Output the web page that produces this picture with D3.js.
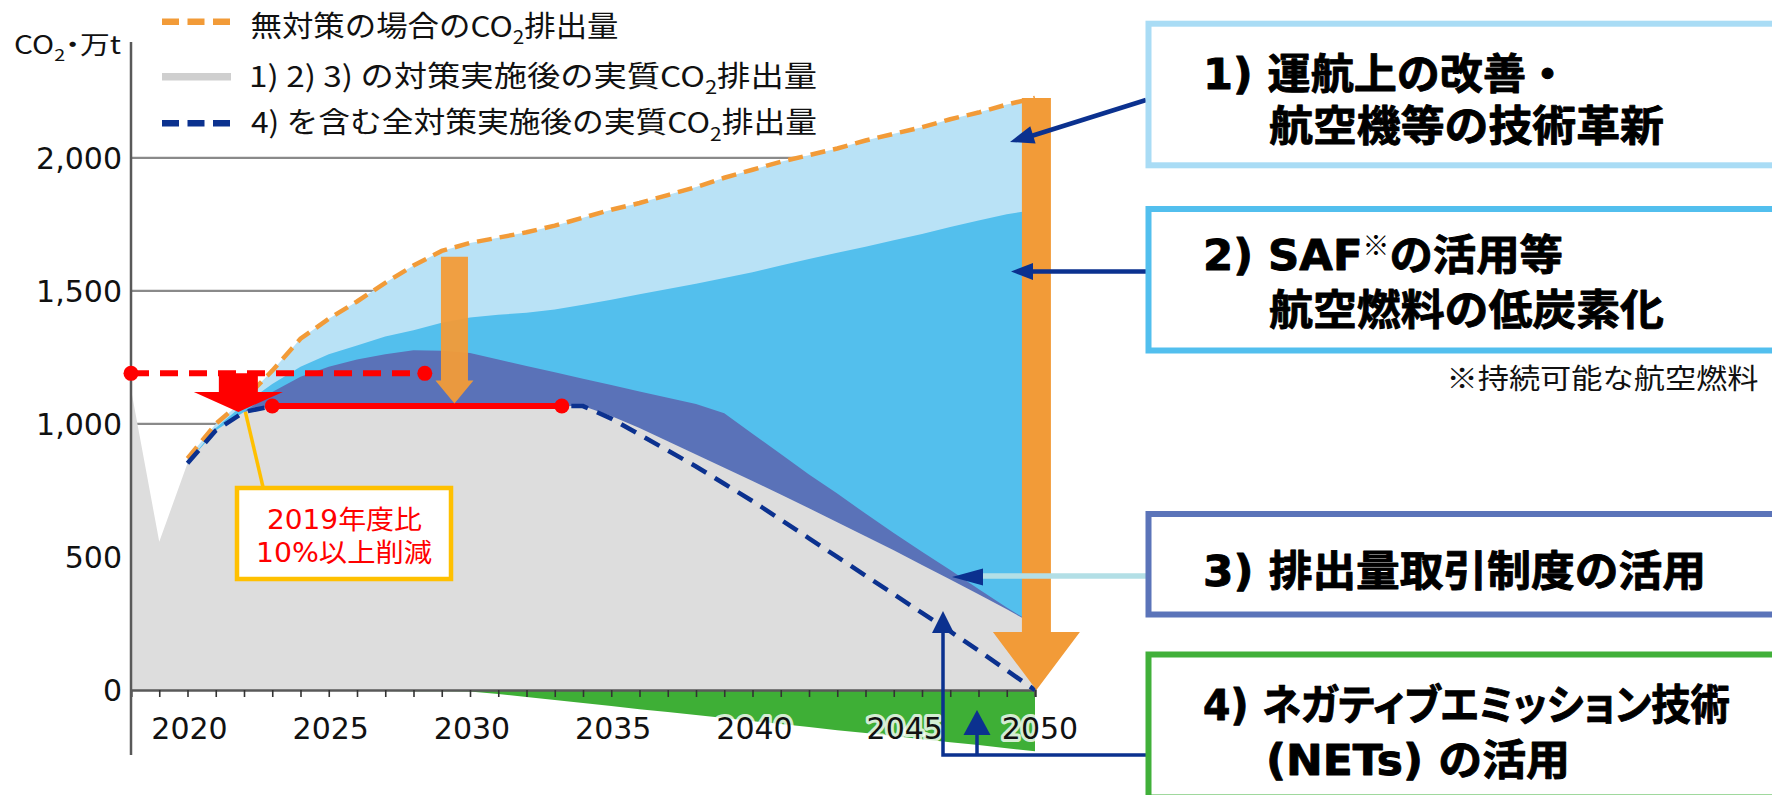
<!DOCTYPE html>
<html lang="ja"><head><meta charset="utf-8">
<script src="https://cdn.jsdelivr.net/npm/d3@7"></script>
<style>html,body{margin:0;padding:0;background:#fff;}svg{display:block}</style>
</head><body>
<svg id="chart" width="1772" height="795"></svg>
<script>
// ---------------- DATA (万t-CO2) ----------------
const years = [2018,2019,2020,2021,2022,2023,2024,2025,2026,2027,2028,2029,2030,2031,2032,2033,2034,2035,2036,2037,2038,2039,2040,2041,2042,2043,2044,2045,2046,2047,2048,2049,2050];
// 無対策の場合 (orange dashed, top of light-blue area)
const noMeasures = [null,null,870,1000,1090,1200,1320,1395,1460,1530,1595,1650,1680,1700,1720,1745,1775,1805,1830,1860,1890,1925,1955,1985,2010,2035,2065,2090,2115,2145,2170,2200,2225];
// after 1) — top of SAF area
const afterMeasure1 = [null,null,852,985,1075,1150,1215,1262,1295,1328,1352,1380,1400,1410,1418,1430,1448,1467,1487,1507,1527,1548,1570,1595,1620,1643,1666,1690,1714,1740,1764,1788,1805];
// after 1)2) — top of emission-trading area
const afterMeasure12 = [null,null,null,null,1045,1120,1177,1215,1242,1262,1277,1275,1266,1242,1218,1194,1170,1146,1122,1098,1075,1040,963,887,810,738,663,590,520,451,380,310,245];
// after 1)2)3) — grey area
const afterMeasure123 = [1130,557,852,975,1045,1067,1067,1067,1067,1067,1067,1067,1067,1067,1067,1067,1067,1030,985,935,885,835,785,735,683,630,578,525,470,415,360,303,245];
// incl. 4) — navy dashed
const afterAll = [null,null,852,975,1045,1067,1067,1067,1067,1067,1067,1067,1067,1067,1067,1067,1067,1020,960,900,840,775,710,640,570,500,430,360,290,220,148,74,0];
// 4) NETs removals (green, negative)
const nets = [null,null,null,null,null,null,null,0,-3,-4,-5,-5,-6,-15,-26,-38,-49,-60,-72,-83,-94,-105,-117,-128,-139,-151,-162,-173,-185,-196,-207,-219,-230];

const yTicks = [0,500,1000,1500,2000];
const xTickYears = [2019,2020,2021,2022,2023,2024,2025,2026,2027,2028,2029,2030,2031,2032,2033,2034,2035,2036,2037,2038,2039,2040,2041,2042,2043,2044,2045,2046,2047,2048,2049,2050];
const xLabelYears = [2020,2025,2030,2035,2040,2045,2050];

const base2019 = 1190;      // 2019年度 level (red dashed)
const target = 1067;        // 10% reduction level (red solid)
const legendItems = [
  {segs:[{t:'無対策の場合のCO'},{t:'2',sub:true},{t:'排出量'}], kind:'orange'},
  {segs:[{t:'1) 2) 3) の対策実施後の実質CO'},{t:'2',sub:true},{t:'排出量'}], kind:'gray'},
  {segs:[{t:'4) を含む全対策実施後の実質CO'},{t:'2',sub:true},{t:'排出量'}], kind:'navy'}
];
const calloutLines = ['2019年度比','10%以上削減'];
const boxLabels = [
  ['1) 運航上の改善・','航空機等の技術革新'],
  ['2) SAF※の活用等','航空燃料の低炭素化'],
  ['3) 排出量取引制度の活用'],
  ['4) ネガティブエミッション技術','(NETs) の活用']
];
const footnote = '※持続可能な航空燃料';

// ---------------- STYLE ----------------
const C = {
  light:'#b9e2f6', mid:'#53bfed', dark:'#5a72b8', gray:'#dddddd', green:'#3eaf36',
  orange:'#f29b38', navy:'#0b318f', red:'#ff0000', yellow:'#ffc000', grid:'#8a8a8a', axis:'#595959'
};
const JP = '"Noto Sans CJK JP","Noto Sans",sans-serif';
const JPB = '"DejaVu Sans","Noto Sans CJK JP",sans-serif';
const NUM = '"DejaVu Sans",Verdana,sans-serif';

const svg = d3.select('#chart');
const x = d3.scaleLinear().domain([2018, 2050]).range([131, 1035]);
const y = d3.scaleLinear().domain([0, 2000]).range([690, 157.8]);

const rows = (arr) => years.map((yr,i)=>({year:yr, v:arr[i]}));
const area = d3.area().defined(d=>d.v!=null).x(d=>x(d.year)).y0(y(0)).y1(d=>y(d.v));
const line = d3.line().defined(d=>d.v!=null).x(d=>x(d.year)).y(d=>y(d.v));

// gridlines
svg.append('g').selectAll('line').data(yTicks.filter(v=>v>0)).join('line')
  .attr('x1', x(2018)).attr('x2', x(2050)).attr('y1', d=>y(d)).attr('y2', d=>y(d))
  .attr('stroke', C.grid).attr('stroke-width', 2.2);

// areas
svg.append('path').datum(rows(noMeasures)).attr('d', area).attr('fill', C.light);
svg.append('path').datum(rows(afterMeasure1)).attr('d', area).attr('fill', C.mid);
svg.append('path').datum(rows(afterMeasure12)).attr('d', area).attr('fill', C.dark);
svg.append('path').datum(rows(afterMeasure123)).attr('d', area).attr('fill', C.gray);
svg.append('path').datum(rows(nets)).attr('d', area).attr('fill', C.green);

// axes
svg.append('line').attr('x1', x(2018)).attr('x2', x(2018)).attr('y1', 42).attr('y2', 755)
  .attr('stroke', C.axis).attr('stroke-width', 2.5);
const xAxis = svg.append('g').attr('transform', `translate(0,${y(0)})`)
  .call(d3.axisBottom(x).tickValues(xTickYears).tickSize(7).tickFormat(''));
xAxis.select('.domain').attr('stroke', C.axis).attr('stroke-width', 2.5);
xAxis.selectAll('.tick line').attr('stroke', '#333').attr('stroke-width', 1.6);

const yAxis = svg.append('g').attr('transform', `translate(122,0)`)
  .call(d3.axisLeft(y).tickValues(yTicks).tickSize(0).tickPadding(0).tickFormat(d3.format(',')));
yAxis.select('.domain').remove();
yAxis.selectAll('text').attr('font-family', NUM).attr('font-size', 30).attr('fill', '#111')
  .attr('dy', null).attr('dominant-baseline', 'central');

svg.append('g').selectAll('text').data(xLabelYears).join('text')
  .attr('x', d => x(d) + (d===2045 ? 11 : d===2050 ? 5 : 2))
  .attr('y', 739).attr('text-anchor', 'middle')
  .attr('font-family', NUM).attr('font-size', 30).attr('fill', '#111')
  .attr('stroke', '#fff').attr('stroke-width', 6).attr('stroke-opacity', 0.8)
  .attr('stroke-linejoin', 'round').attr('paint-order', 'stroke')
  .text(d => d);

// lines
svg.append('path').datum(rows(noMeasures)).attr('d', line).attr('fill','none')
  .attr('stroke', C.orange).attr('stroke-width', 4.5).attr('stroke-dasharray', '15,8');
svg.append('path').datum(rows(afterAll)).attr('d', line).attr('fill','none')
  .attr('stroke', C.navy).attr('stroke-width', 4.5).attr('stroke-dasharray', '17,10');

// red 2019 level (dashed) and target (solid)
svg.append('line').attr('x1', x(2018)).attr('x2', x(2028.4)).attr('y1', y(base2019)).attr('y2', y(base2019))
  .attr('stroke', C.red).attr('stroke-width', 6).attr('stroke-dasharray', '18,11');
svg.append('line').attr('x1', x(2023)).attr('x2', x(2033.25)).attr('y1', y(target)).attr('y2', y(target))
  .attr('stroke', C.red).attr('stroke-width', 6);
svg.append('g').selectAll('circle').data([[2018,base2019],[2028.4,base2019],[2023,target],[2033.25,target]]).join('circle')
  .attr('cx', d=>x(d[0])).attr('cy', d=>y(d[1])).attr('r', 7.5).attr('fill', C.red);

// block arrow helper (vertical, pointing down)
function downArrow(cx, yTop, yTip, shaftW, headW, headL, fill, op) {
  const yb = yTip - headL;
  const p = [[cx-shaftW/2,yTop],[cx+shaftW/2,yTop],[cx+shaftW/2,yb],[cx+headW/2,yb],[cx,yTip],[cx-headW/2,yb],[cx-shaftW/2,yb]];
  svg.append('path').attr('d', 'M'+p.map(q=>q.join(',')).join('L')+'Z').attr('fill', fill).attr('fill-opacity', op||1);
}
// red arrow (2019 -> -10%)
downArrow(x(2021.8), y(base2019), y(1045), 39, 89, 20, C.red);

// yellow callout
svg.append('line').attr('x1', x(2021.8)+7).attr('y1', y(1045)).attr('x2', 263).attr('y2', 487)
  .attr('stroke', C.yellow).attr('stroke-width', 3.5);
svg.append('rect').attr('x', 237).attr('y', 488).attr('width', 214).attr('height', 91)
  .attr('fill', '#fff').attr('stroke', C.yellow).attr('stroke-width', 4.5);

// orange arrows
downArrow(x(2029.45), y(1628), y(1077), 27, 38, 23, C.orange, 0.95);
downArrow(x(2050.05), y(2225), y(0), 29, 87, 58, C.orange);

// generic arrow with triangular head
function arrowHead(tx, ty, fx, fy, len, w, fill) {
  const a = Math.atan2(ty-fy, tx-fx), bx = tx - len*Math.cos(a), by = ty - len*Math.sin(a);
  const nx = -Math.sin(a)*w/2, ny = Math.cos(a)*w/2;
  svg.append('path').attr('d', `M${tx},${ty}L${bx+nx},${by+ny}L${bx-nx},${by-ny}Z`).attr('fill', fill);
}
function connector(pts, width, color) {
  svg.append('path').attr('d', d3.line()(pts)).attr('fill','none').attr('stroke', color).attr('stroke-width', width);
}
// box 1
connector([[1146,100],[1025,138]], 4.5, C.navy); arrowHead(1010,142,1146,100,24,18,C.navy);
// box 2
connector([[1148,271.5],[1025,271.5]], 4.5, C.navy); arrowHead(1011,271.5,1148,271.5,22,17,C.navy);
// box 3
connector([[1146,576],[980,576]], 5.5, '#b3dfe6'); arrowHead(952,577,990,577,31,17,C.navy);
// box 4
connector([[1146,755],[943,755],[943,630]], 3.5, C.navy); arrowHead(943,611,943,700,22,22,C.navy);
connector([[977,755],[977,732]], 3.5, C.navy); arrowHead(977,710,977,760,25,27,C.navy);

// ---------------- TEXT ----------------
// one <text> per line; textLength matches the reference width
function addLine(L, o) {
  const size = o.size;
  const t = svg.append('text').attr('x', L.x).attr('y', L.yc + 0.37*size)
    .attr('font-family', o.family || JP).attr('font-size', size)
    .attr('font-weight', o.weight || 400).attr('fill', o.fill || '#111');
  if (o.stroke) t.attr('stroke', o.stroke).attr('stroke-width', o.strokeW).attr('stroke-linejoin', 'round');
  if (o.palt) t.style('font-feature-settings', '"palt" 1');
  if (L.len) t.attr('textLength', L.len).attr('lengthAdjust', 'spacingAndGlyphs');
  let shift = 0;
  L.segs.forEach(s => {
    const ts = t.append('tspan').text(s.t);
    let tgt = 0;
    if (s.sub) { ts.attr('font-size', size*0.66); tgt = size*0.26; }
    if (s.sup) { ts.attr('font-size', size*0.62).attr('font-family', JP).attr('font-weight', 400).attr('stroke', 'none'); tgt = -size*0.34; }
    if (tgt - shift !== 0) ts.attr('dy', tgt - shift);
    shift = tgt;
  });
  return t;
}
function segsOf(str) {
  const parts = str.split('※');
  if (parts.length === 1 || parts[0] === '') return [{t:str}];
  return [{t:parts[0]},{t:'※',sup:true},{t:parts[1]}];
}

// y unit
addLine({segs:[{t:'CO'},{t:'2',sub:true},{t:'・万t'}], x:14, yc:45, len:107}, {size:25, palt:true});

// legend
const legY = [{sw:21.7, tx:25.8, len:368, x:250.5}, {sw:76.7, tx:75.8, len:568, x:249}, {sw:123.3, tx:122.5, len:566, x:251}];
legendItems.forEach((it, i) => {
  const g = svg.append('line').attr('x1', 162).attr('x2', 231).attr('y1', legY[i].sw).attr('y2', legY[i].sw);
  if (it.kind === 'orange') g.attr('stroke', C.orange).attr('stroke-width', 6.5).attr('stroke-dasharray', '17,8.5');
  if (it.kind === 'gray') g.attr('stroke', '#cfcfcf').attr('stroke-width', 7.5);
  if (it.kind === 'navy') g.attr('stroke', C.navy).attr('stroke-width', 6.5).attr('stroke-dasharray', '17,8.5');
  addLine({segs:it.segs, x:legY[i].x, yc:legY[i].tx, len:legY[i].len}, {size:29});
});

// callout text
addLine({segs:[{t:calloutLines[0]}], x:267, yc:519, len:155}, {size:26, fill:C.red, family:JPB});
addLine({segs:[{t:calloutLines[1]}], x:256, yc:552, len:176}, {size:26, fill:C.red, family:JPB});

// boxes
const boxes = [
  {y:23.7, h:141.6, stroke:'#a9dcf5'},
  {y:209, h:141.5, stroke:'#52bfee'},
  {y:514, h:100.5, stroke:'#5b74b9'},
  {y:654.5, h:143, stroke:'#41b03a'}
];
const boxText = [
  [{x:1203, yc:73.3, len:366}, {x:1269, yc:125.8, len:395}],
  [{x:1203, yc:254, len:360}, {x:1269, yc:309, len:395}],
  [{x:1203, yc:570, len:503}],
  [{x:1203, yc:704, len:527, palt:true}, {x:1266, yc:759, len:304}]
];
boxes.forEach((b, i) => {
  svg.append('rect').attr('x', 1148.5).attr('y', b.y).attr('width', 1777 - 1148.5).attr('height', b.h)
    .attr('fill', '#fff').attr('stroke', b.stroke).attr('stroke-width', 6);
  boxLabels[i].forEach((s, j) => {
    const p = boxText[i][j];
    addLine(Object.assign({segs:segsOf(s)}, p),
      {size:42, weight:700, fill:'#000', family:JPB, stroke:'#000', strokeW:0.9, palt:p.palt});
  });
});
addLine({segs:[{t:footnote}], x:1446.5, yc:379, len:312}, {size:28});
</script>
</body></html>
